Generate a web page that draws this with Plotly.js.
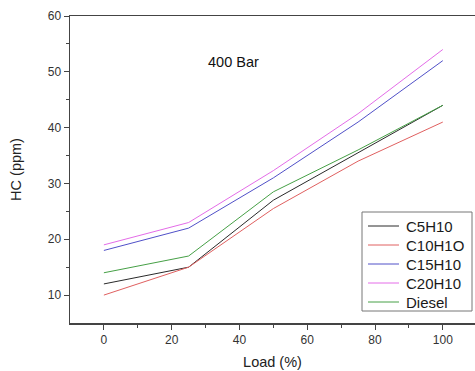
<!DOCTYPE html>
<html><head><meta charset="utf-8">
<script src="https://cdn.plot.ly/plotly-3.0.1.min.js"></script>
<style>html,body{margin:0;padding:0;background:#fff}#chart{width:475px;height:371px}</style>
</head><body><div id="chart"></div>
<script>
const load = [0, 25, 50, 75, 100];
const c5h10 = [12, 15, 27, 35.5, 44];
const c10h1o = [10, 15, 25.5, 34, 41];
const c15h10 = [18, 22, 31, 41, 52];
const c20h10 = [19, 23, 32.3, 42.5, 54];
const diesel = [14, 17, 28.5, 36, 44];
const names = ['C5H10', 'C10H1O', 'C15H10', 'C20H10', 'Diesel'];
const series = [c5h10, c10h1o, c15h10, c20h10, diesel];
const colors = ['#2a2a2a', '#e06060', '#5050c8', '#e46ce8', '#46a046'];

const traces = series.map((s, i) => ({
  x: load, y: s, name: names[i], type: 'scatter', mode: 'lines',
  line: {color: colors[i], width: 1}, showlegend: false
}));

// plot area in pixels: left 70, right 475, top 16, bottom 323
const L = 70, R = 475, T = 16, B = 323;
const px = v => (v - L) / (R - L);
const py = v => (B - v) / (B - T);

const fam = 'Liberation Sans, Arial, sans-serif';
const shapes = [{type: 'rect', xref: 'paper', yref: 'paper', layer: 'above',
  x0: px(362), x1: px(472), y0: py(311), y1: py(212),
  line: {color: '#777', width: 1}, fillcolor: '#fff'}];
const annotations = [{text: '400 Bar', xref: 'paper', yref: 'paper', x: px(206), y: py(62),
  xanchor: 'left', yanchor: 'middle', showarrow: false,
  font: {size: 14.5, color: '#111', family: fam}}];
names.forEach((n, i) => {
  const cy = 226 + i * 19;
  shapes.push({type: 'line', xref: 'paper', yref: 'paper', layer: 'above',
    x0: px(368), x1: px(399), y0: py(cy), y1: py(cy), line: {color: colors[i], width: 1}});
  annotations.push({text: n, xref: 'paper', yref: 'paper', x: px(404), y: py(cy),
    xanchor: 'left', yanchor: 'middle', showarrow: false,
    font: {size: 15, color: '#1a1a1a', family: fam}});
});

const layout = {
  width: 475, height: 371,
  margin: {l: L, r: 475 - R, t: T, b: 371 - B},
  paper_bgcolor: '#fff', plot_bgcolor: '#fff',
  font: {family: fam, color: '#222', size: 12},
  showlegend: false,
  xaxis: {range: [-10, 109.5], showgrid: false, zeroline: false,
    showline: true, linecolor: '#444', linewidth: 1.5, mirror: true,
    ticks: 'outside', ticklen: 5, tickcolor: '#444', tickvals: [0, 20, 40, 60, 80, 100],
    minor: {ticks: 'outside', ticklen: 3, tickcolor: '#444', tickvals: [10, 30, 50, 70, 90]},
    tickfont: {size: 12, color: '#333'},
    title: {text: 'Load (%)', font: {size: 14.5, color: '#222'}, standoff: 11}},
  yaxis: {range: [5, 60], showgrid: false, zeroline: false,
    showline: true, linecolor: '#444', linewidth: 1.5, mirror: false,
    ticks: 'outside', ticklen: 5, tickcolor: '#444', tickvals: [10, 20, 30, 40, 50, 60],
    minor: {ticks: 'outside', ticklen: 3, tickcolor: '#444', tickvals: [15, 25, 35, 45, 55]},
    tickfont: {size: 12, color: '#333'},
    title: {text: 'HC (ppm)', font: {size: 14.5, color: '#222'}, standoff: 22}},
  shapes: shapes,
  annotations: annotations
};
Plotly.newPlot('chart', traces, layout, {displayModeBar: false, staticPlot: true});
</script></body></html>
